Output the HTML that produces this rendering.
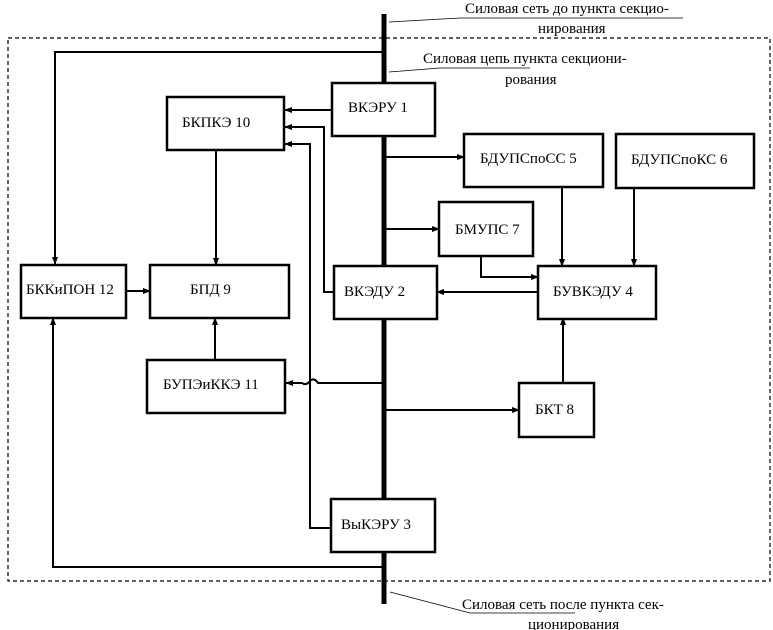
<!DOCTYPE html>
<html><head><meta charset="utf-8"><style>
html,body{margin:0;padding:0;background:#fff}
svg{display:block}
text{font-family:"Liberation Serif",serif;font-size:15px;fill:#000}
</style></head><body>
<svg width="773" height="630" viewBox="0 0 773 630" xmlns="http://www.w3.org/2000/svg">
<defs>
<marker id="a" markerWidth="8" markerHeight="8" refX="7" refY="4" orient="auto" markerUnits="userSpaceOnUse">
<path d="M0,1 L8,4 L0,7 Z" fill="#000"/></marker>
</defs>
<rect x="8" y="38" width="762" height="543" fill="none" stroke="#000" stroke-width="1.2" stroke-dasharray="4,3"/>
<!-- bus -->
<line x1="384" y1="14" x2="384" y2="604" stroke="#000" stroke-width="5"/>
<g fill="none" stroke="#000" stroke-width="2">
<polyline points="384,52 55,52 55,264" marker-end="url(#a)"/>
<polyline points="384,567 53,567 53,318" marker-end="url(#a)"/>
<line x1="332" y1="110" x2="285" y2="110" marker-end="url(#a)"/>
<polyline points="334,292 324,292 324,127 285,127" marker-end="url(#a)"/>
<polyline points="331,528 310,528 310,144 285,144" marker-end="url(#a)"/>
<line x1="216" y1="150" x2="216" y2="265" marker-end="url(#a)"/>
<line x1="126" y1="291" x2="150" y2="291" marker-end="url(#a)"/>
<line x1="215" y1="360" x2="215" y2="318" marker-end="url(#a)"/>
<line x1="384" y1="157" x2="464" y2="157" marker-end="url(#a)"/>
<line x1="384" y1="229" x2="439" y2="229" marker-end="url(#a)"/>
<polyline points="481,256 481,277 538,277" marker-end="url(#a)"/>
<line x1="562" y1="187" x2="562" y2="266" marker-end="url(#a)"/>
<line x1="634" y1="188" x2="634" y2="266" marker-end="url(#a)"/>
<line x1="538" y1="292" x2="437" y2="292" marker-end="url(#a)"/>
<line x1="563" y1="383" x2="563" y2="318" marker-end="url(#a)"/>
<line x1="384" y1="410" x2="519" y2="410" marker-end="url(#a)"/>
<path d="M384,383 L318,383 Q314,377 310,381 Q306,386 302,383 L286,383" marker-end="url(#a)"/>
</g>
<g fill="#fff" stroke="#000" stroke-width="2.5">
<rect x="332" y="83" width="103" height="53"/>
<rect x="167" y="97" width="117" height="53"/>
<rect x="464" y="134" width="139" height="53"/>
<rect x="616" y="134" width="138" height="54"/>
<rect x="439" y="202" width="94" height="54"/>
<rect x="21" y="265" width="105" height="53"/>
<rect x="150" y="265" width="139" height="53"/>
<rect x="334" y="266" width="103" height="53"/>
<rect x="538" y="266" width="118" height="53"/>
<rect x="147" y="360" width="138" height="53"/>
<rect x="519" y="383" width="75" height="54"/>
<rect x="331" y="499" width="104" height="53"/>
</g>
<text x="348" y="112">ВКЭРУ 1</text>
<text x="182" y="127">БКПКЭ 10</text>
<text x="480" y="163">БДУПСпоСС 5</text>
<text x="631" y="164">БДУПСпоКС 6</text>
<text x="455" y="234">БМУПС 7</text>
<text x="26" y="294">БККиПОН 12</text>
<text x="190" y="294">БПД 9</text>
<text x="344" y="296">ВКЭДУ 2</text>
<text x="553" y="296">БУВКЭДУ 4</text>
<text x="163" y="389">БУПЭиККЭ 11</text>
<text x="535" y="414">БКТ 8</text>
<text x="341" y="529">ВыКЭРУ 3</text>
<g fill="none" stroke="#000" stroke-width="0.8">
<polyline points="389,22 460,18 683,18"/>
<polyline points="389,72 440,68 530,68"/>
<polyline points="390,592 470,613 575,613"/>
</g>
<text x="465" y="13">Силовая сеть до пункта секцио-</text>
<text x="538" y="33">нирования</text>
<text x="423" y="63">Силовая цепь пункта секциони-</text>
<text x="505" y="84">рования</text>
<text x="462" y="609">Силовая сеть после пункта сек-</text>
<text x="528" y="629">ционирования</text>
</svg>
</body></html>
